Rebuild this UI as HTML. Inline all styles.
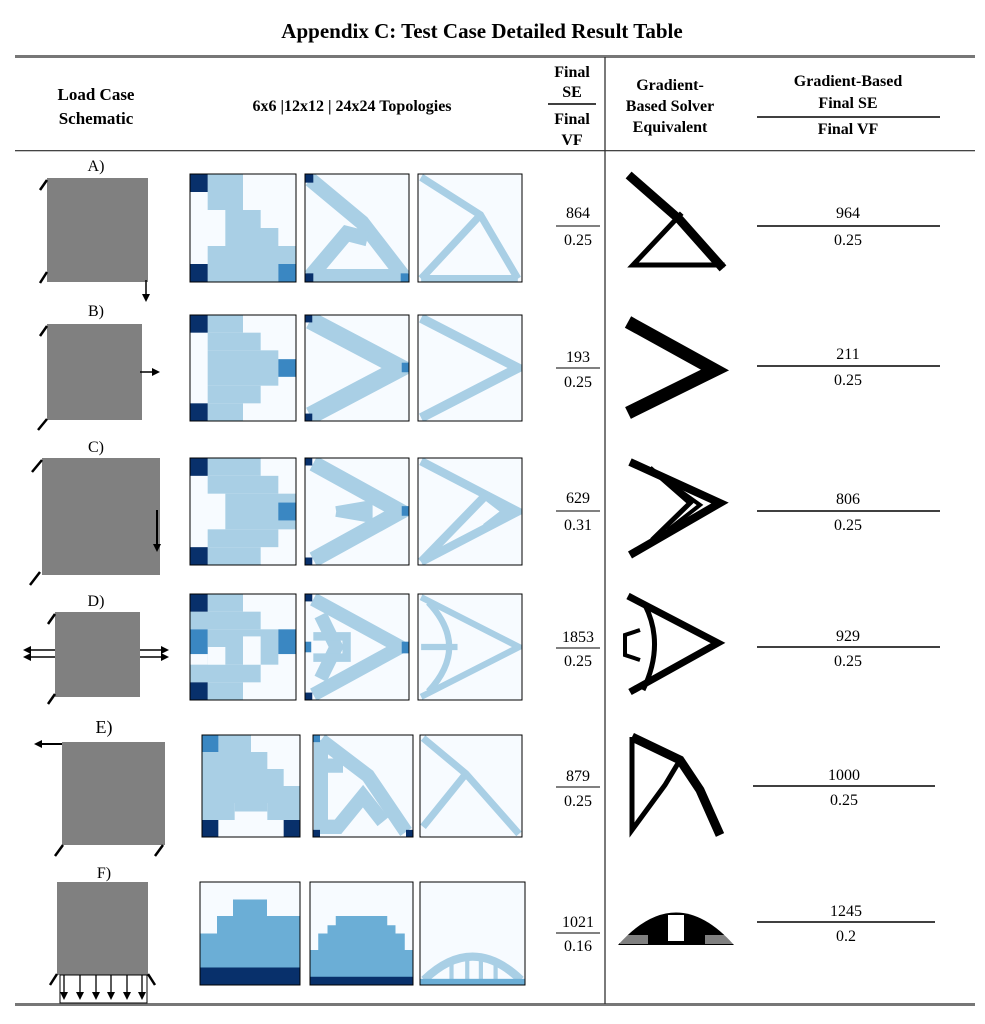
<!DOCTYPE html>
<html><head><meta charset="utf-8"><style>
html,body{margin:0;padding:0;background:#fff;width:985px;height:1024px;overflow:hidden}
text{font-family:"Liberation Serif",serif;fill:#000}
.h{font-weight:bold;font-size:17px}
.n{font-size:16px}
</style></head><body>
<svg width="985" height="1024" viewBox="0 0 985 1024" xmlns="http://www.w3.org/2000/svg">
<defs>
<marker id="ah" markerWidth="8" markerHeight="8" refX="4" refY="4" orient="auto" markerUnits="userSpaceOnUse"><path d="M0,0 L8,4 L0,8 z" fill="#000"/></marker>
</defs>
<text x="482" y="38" text-anchor="middle" style="font-weight:bold;font-size:21px">Appendix C: Test Case Detailed Result Table</text>
<rect x="15" y="55" width="960" height="3" fill="#777"/>
<rect x="15" y="150" width="960" height="1.3" fill="#444"/>
<rect x="15" y="1003" width="960" height="3" fill="#777"/>
<line x1="605" y1="57" x2="605" y2="1004" stroke="#333" stroke-width="1.3"/>
<!-- header -->
<text class="h" x="96" y="100" text-anchor="middle">Load Case</text>
<text class="h" x="96" y="124" text-anchor="middle">Schematic</text>
<text class="h" x="352" y="111" text-anchor="middle" style="font-size:16px">6x6 |12x12 | 24x24 Topologies</text>
<text class="h" x="572" y="77" text-anchor="middle" style="font-size:16px">Final</text>
<text class="h" x="572" y="97" text-anchor="middle" style="font-size:16px">SE</text>
<line x1="548" y1="104" x2="596" y2="104" stroke="#000" stroke-width="1.5"/>
<text class="h" x="572" y="124" text-anchor="middle" style="font-size:16px">Final</text>
<text class="h" x="572" y="145" text-anchor="middle" style="font-size:16px">VF</text>
<text class="h" x="670" y="90" text-anchor="middle" style="font-size:16px">Gradient-</text>
<text class="h" x="670" y="111" text-anchor="middle" style="font-size:16px">Based Solver</text>
<text class="h" x="670" y="132" text-anchor="middle" style="font-size:16px">Equivalent</text>
<text class="h" x="848" y="86" text-anchor="middle" style="font-size:16px">Gradient-Based</text>
<text class="h" x="848" y="108" text-anchor="middle" style="font-size:16px">Final SE</text>
<line x1="757" y1="117" x2="940" y2="117" stroke="#000" stroke-width="1.5"/>
<text class="h" x="848" y="134" text-anchor="middle" style="font-size:16px">Final VF</text>

<!-- ROW A -->
<text class="n" x="96" y="171" text-anchor="middle">A)</text>
<rect x="47" y="178" width="101" height="104" fill="#808080"/>
<line x1="40" y1="190" x2="47" y2="180" stroke="#000" stroke-width="2.5"/>
<line x1="40" y1="283" x2="47" y2="272" stroke="#000" stroke-width="2.5"/>
<line x1="146" y1="280" x2="146" y2="298" stroke="#000" stroke-width="1.5" marker-end="url(#ah)"/>
<svg x="190" y="174" width="106" height="108" viewBox="0 0 6 6" preserveAspectRatio="none"><rect width="6" height="6" fill="#f7fbff"/>
<g fill="#a9cfe5"><rect x="1" y="0" width="2" height="1"/><rect x="1" y="1" width="2" height="1"/><rect x="2" y="2" width="2" height="1"/><rect x="2" y="3" width="3" height="1"/><rect x="1" y="4" width="5" height="1"/><rect x="1" y="5" width="4" height="1"/></g>
<rect x="0" y="0" width="1" height="1" fill="#08306b"/><rect x="0" y="5" width="1" height="1" fill="#08306b"/><rect x="5" y="5" width="1" height="1" fill="#3a87c2"/></svg>
<svg x="305" y="174" width="104" height="108" viewBox="0 0 100 100" preserveAspectRatio="none"><rect width="100" height="100" fill="#f7fbff"/>
<g stroke="#a9cfe5" fill="none" stroke-width="14"><polyline points="5,5 55,45 95,95"/><polyline points="5,95 40,55 60,60"/><polyline points="5,95 95,95"/></g>
<rect x="0" y="0" width="8" height="8" fill="#08306b"/><rect x="0" y="92" width="8" height="8" fill="#08306b"/><rect x="92" y="92" width="8" height="8" fill="#3a87c2"/></svg>
<svg x="418" y="174" width="104" height="108" viewBox="0 0 100 100" preserveAspectRatio="none"><rect width="100" height="100" fill="#f7fbff"/>
<g stroke="#a9cfe5" fill="none" stroke-width="7"><polyline points="3,3 60,38 96,97"/><polyline points="60,38 3,97"/><polyline points="3,97 96,97"/></g></svg>
<g stroke="#000" fill="none" stroke-linecap="square"><polyline points="632,178 680,220 720,265" stroke-width="9"/><polyline points="680,215 633,265 722,265" stroke-width="5"/></g>
<text class="n" x="578" y="218" text-anchor="middle">864</text><line x1="556" y1="226" x2="600" y2="226" stroke="#000"/><text class="n" x="578" y="245" text-anchor="middle">0.25</text>
<text class="n" x="848" y="218" text-anchor="middle">964</text><line x1="757" y1="226" x2="940" y2="226" stroke="#000" stroke-width="1.5"/><text class="n" x="848" y="245" text-anchor="middle">0.25</text>

<!-- ROW B -->
<text class="n" x="96" y="316" text-anchor="middle">B)</text>
<rect x="47" y="324" width="95" height="96" fill="#808080"/>
<line x1="40" y1="336" x2="47" y2="326" stroke="#000" stroke-width="2.5"/>
<line x1="38" y1="430" x2="47" y2="419" stroke="#000" stroke-width="2.5"/>
<line x1="140" y1="372" x2="156" y2="372" stroke="#000" stroke-width="1.5" marker-end="url(#ah)"/>
<svg x="190" y="315" width="106" height="106" viewBox="0 0 6 6" preserveAspectRatio="none"><rect width="6" height="6" fill="#f7fbff"/>
<g fill="#a9cfe5"><rect x="1" y="0" width="2" height="1"/><rect x="1" y="1" width="3" height="1"/><rect x="1" y="2" width="4" height="2"/><rect x="1" y="4" width="3" height="1"/><rect x="1" y="5" width="2" height="1"/></g>
<rect x="0" y="0" width="1" height="1" fill="#08306b"/><rect x="0" y="5" width="1" height="1" fill="#08306b"/><rect x="5" y="2.5" width="1" height="1" fill="#3a87c2"/></svg>
<svg x="305" y="315" width="104" height="106" viewBox="0 0 100 100" preserveAspectRatio="none"><rect width="100" height="100" fill="#f7fbff"/>
<g stroke="#a9cfe5" fill="none" stroke-width="17"><polyline points="5,5 92,50 5,95"/></g>
<rect x="0" y="0" width="7" height="7" fill="#08306b"/><rect x="0" y="93" width="7" height="7" fill="#08306b"/><rect x="93" y="45" width="7" height="9" fill="#3a87c2"/></svg>
<svg x="418" y="315" width="104" height="106" viewBox="0 0 100 100" preserveAspectRatio="none"><rect width="100" height="100" fill="#f7fbff"/>
<g stroke="#a9cfe5" fill="none" stroke-width="9"><polyline points="3,3 96,50 3,97"/></g></svg>
<g stroke="#000" fill="none"><polyline points="628,322 715,370 628,413" stroke-width="13"/></g>
<text class="n" x="578" y="362" text-anchor="middle">193</text><line x1="556" y1="368" x2="600" y2="368" stroke="#000"/><text class="n" x="578" y="387" text-anchor="middle">0.25</text>
<text class="n" x="848" y="359" text-anchor="middle">211</text><line x1="757" y1="366" x2="940" y2="366" stroke="#000" stroke-width="1.5"/><text class="n" x="848" y="385" text-anchor="middle">0.25</text>

<!-- ROW C -->
<text class="n" x="96" y="452" text-anchor="middle">C)</text>
<rect x="42" y="458" width="118" height="117" fill="#808080"/>
<line x1="32" y1="472" x2="42" y2="460" stroke="#000" stroke-width="2.5"/>
<line x1="30" y1="585" x2="40" y2="572" stroke="#000" stroke-width="2.5"/>
<line x1="157" y1="510" x2="157" y2="548" stroke="#000" stroke-width="2" marker-end="url(#ah)"/>
<svg x="190" y="458" width="106" height="107" viewBox="0 0 6 6" preserveAspectRatio="none"><rect width="6" height="6" fill="#f7fbff"/>
<g fill="#a9cfe5"><rect x="1" y="0" width="3" height="1"/><rect x="1" y="1" width="4" height="1"/><rect x="2" y="2" width="4" height="1"/><rect x="2" y="3" width="4" height="1"/><rect x="1" y="4" width="4" height="1"/><rect x="1" y="5" width="3" height="1"/></g>
<rect x="0" y="0" width="1" height="1" fill="#08306b"/><rect x="0" y="5" width="1" height="1" fill="#08306b"/><rect x="5" y="2.5" width="1" height="1" fill="#3a87c2"/></svg>
<svg x="305" y="458" width="104" height="107" viewBox="0 0 100 100" preserveAspectRatio="none"><rect width="100" height="100" fill="#f7fbff"/>
<g stroke="#a9cfe5" fill="none" stroke-width="15"><polyline points="8,5 92,50 8,95"/><polyline points="30,50 60,45 60,55 30,50" stroke-width="10"/></g>
<rect x="0" y="0" width="7" height="7" fill="#08306b"/><rect x="0" y="93" width="7" height="7" fill="#08306b"/><rect x="93" y="45" width="7" height="9" fill="#3a87c2"/></svg>
<svg x="418" y="458" width="104" height="107" viewBox="0 0 100 100" preserveAspectRatio="none"><rect width="100" height="100" fill="#f7fbff"/>
<g stroke="#a9cfe5" fill="none" stroke-width="8"><polyline points="3,3 96,50 3,97"/><polyline points="65,35 85,50 65,65"/><polyline points="3,97 65,35"/></g></svg>
<g stroke="#000" fill="none"><polyline points="630,462 720,503 630,555" stroke-width="8"/><polyline points="650,468 690,503 652,540" stroke-width="5"/><polyline points="665,480 700,505 668,530" stroke-width="4"/></g>
<text class="n" x="578" y="503" text-anchor="middle">629</text><line x1="556" y1="511" x2="600" y2="511" stroke="#000"/><text class="n" x="578" y="530" text-anchor="middle">0.31</text>
<text class="n" x="848" y="504" text-anchor="middle">806</text><line x1="757" y1="511" x2="940" y2="511" stroke="#000" stroke-width="1.5"/><text class="n" x="848" y="530" text-anchor="middle">0.25</text>

<!-- ROW D -->
<text class="n" x="96" y="606" text-anchor="middle">D)</text>
<rect x="55" y="612" width="85" height="85" fill="#808080"/>
<line x1="48" y1="624" x2="55" y2="614" stroke="#000" stroke-width="2.5"/>
<line x1="48" y1="704" x2="55" y2="694" stroke="#000" stroke-width="2.5"/>
<g stroke="#000" stroke-width="1.5"><line x1="55" y1="650" x2="27" y2="650" marker-end="url(#ah)"/><line x1="55" y1="657" x2="27" y2="657" marker-end="url(#ah)"/><line x1="140" y1="650" x2="165" y2="650" marker-end="url(#ah)"/><line x1="140" y1="657" x2="165" y2="657" marker-end="url(#ah)"/></g>
<svg x="190" y="594" width="106" height="106" viewBox="0 0 6 6" preserveAspectRatio="none"><rect width="6" height="6" fill="#f7fbff"/>
<g fill="#a9cfe5"><rect x="1" y="0" width="2" height="1"/><rect x="0" y="1" width="4" height="1"/><rect x="1" y="2" width="4" height="2"/><rect x="0" y="4" width="4" height="1"/><rect x="1" y="5" width="2" height="1"/></g>
<g fill="#f7fbff"><rect x="1" y="3" width="1" height="1"/><rect x="3" y="2.4" width="1" height="1.6"/></g>
<rect x="0" y="0" width="1" height="1" fill="#08306b"/><rect x="0" y="5" width="1" height="1" fill="#08306b"/><rect x="0" y="2" width="1" height="1.4" fill="#3a87c2"/><rect x="5" y="2" width="1" height="1.4" fill="#3a87c2"/></svg>
<svg x="305" y="594" width="104" height="106" viewBox="0 0 100 100" preserveAspectRatio="none"><rect width="100" height="100" fill="#f7fbff"/>
<g stroke="#a9cfe5" fill="none" stroke-width="13"><polyline points="8,5 92,50 8,95"/><polyline points="15,20 30,50 15,80"/><polyline points="8,40 40,40 40,60 8,60" stroke-width="8"/></g>
<rect x="0" y="0" width="7" height="7" fill="#08306b"/><rect x="0" y="93" width="7" height="7" fill="#08306b"/><rect x="93" y="45" width="7" height="11" fill="#3a87c2"/><rect x="0" y="45" width="6" height="10" fill="#3a87c2"/></svg>
<svg x="418" y="594" width="104" height="106" viewBox="0 0 100 100" preserveAspectRatio="none"><rect width="100" height="100" fill="#f7fbff"/>
<g stroke="#a9cfe5" fill="none" stroke-width="6"><polyline points="3,3 97,50 3,97"/><path d="M10,8 Q50,50 10,92"/><line x1="3" y1="50" x2="38" y2="50"/></g></svg>
<g stroke="#000" fill="none"><polyline points="628,596 718,643 630,692" stroke-width="7"/><path d="M645,605 Q665,645 643,690" stroke-width="5"/><polyline points="640,630 625,635 625,655 640,660" stroke-width="4"/></g>
<text class="n" x="578" y="642" text-anchor="middle">1853</text><line x1="556" y1="648" x2="600" y2="648" stroke="#000"/><text class="n" x="578" y="666" text-anchor="middle">0.25</text>
<text class="n" x="848" y="641" text-anchor="middle">929</text><line x1="757" y1="647" x2="940" y2="647" stroke="#000" stroke-width="1.5"/><text class="n" x="848" y="666" text-anchor="middle">0.25</text>

<!-- ROW E -->
<text class="n" x="104" y="733" text-anchor="middle" style="font-size:18px">E)</text>
<rect x="62" y="742" width="103" height="103" fill="#808080"/>
<line x1="62" y1="744" x2="38" y2="744" stroke="#000" stroke-width="2" marker-end="url(#ah)"/>
<line x1="55" y1="856" x2="63" y2="845" stroke="#000" stroke-width="2.5"/>
<line x1="155" y1="856" x2="163" y2="845" stroke="#000" stroke-width="2.5"/>
<svg x="202" y="735" width="98" height="102" viewBox="0 0 6 6" preserveAspectRatio="none"><rect width="6" height="6" fill="#f7fbff"/>
<g fill="#a9cfe5"><rect x="0" y="0" width="3" height="1"/><rect x="0" y="1" width="4" height="1"/><rect x="0" y="2" width="5" height="1"/><rect x="0" y="3" width="6" height="1"/><rect x="0" y="4" width="2" height="1"/><rect x="4" y="4" width="2" height="1"/><rect x="2" y="4" width="2" height="0.5"/></g>
<rect x="0" y="0" width="1" height="1" fill="#3a87c2"/><rect x="0" y="5" width="1" height="1" fill="#08306b"/><rect x="5" y="5" width="1" height="1" fill="#08306b"/></svg>
<svg x="313" y="735" width="100" height="102" viewBox="0 0 100 100" preserveAspectRatio="none"><rect width="100" height="100" fill="#f7fbff"/>
<g stroke="#a9cfe5" fill="none" stroke-width="14"><polyline points="8,5 55,40 93,95"/><polyline points="8,5 8,90 25,90 50,60 70,85"/><line x1="8" y1="30" x2="30" y2="30"/></g>
<rect x="0" y="0" width="7" height="7" fill="#3a87c2"/><rect x="0" y="93" width="7" height="7" fill="#08306b"/><rect x="93" y="93" width="7" height="7" fill="#08306b"/></svg>
<svg x="420" y="735" width="102" height="102" viewBox="0 0 100 100" preserveAspectRatio="none"><rect width="100" height="100" fill="#f7fbff"/>
<g stroke="#a9cfe5" fill="none" stroke-width="7"><polyline points="3,3 45,38 97,97"/><polyline points="45,38 3,90"/></g></svg>
<g stroke="#000" fill="none"><polyline points="632,737 632,830 665,785 680,760" stroke-width="5"/><polyline points="632,737 680,760 700,790 720,835" stroke-width="9"/></g>
<text class="n" x="578" y="781" text-anchor="middle">879</text><line x1="556" y1="787" x2="600" y2="787" stroke="#000"/><text class="n" x="578" y="806" text-anchor="middle">0.25</text>
<text class="n" x="844" y="780" text-anchor="middle">1000</text><line x1="753" y1="786" x2="935" y2="786" stroke="#000" stroke-width="1.5"/><text class="n" x="844" y="805" text-anchor="middle">0.25</text>

<!-- ROW F -->
<text class="n" x="104" y="878" text-anchor="middle">F)</text>
<rect x="57" y="882" width="91" height="93" fill="#808080"/>
<line x1="50" y1="985" x2="57" y2="974" stroke="#000" stroke-width="2.5"/>
<line x1="155" y1="985" x2="148" y2="974" stroke="#000" stroke-width="2.5"/>
<rect x="60" y="975" width="87" height="28" fill="none" stroke="#000" stroke-width="1"/>
<g stroke="#000" stroke-width="1.3"><line x1="64" y1="975" x2="64" y2="996" marker-end="url(#ah)"/><line x1="80" y1="975" x2="80" y2="996" marker-end="url(#ah)"/><line x1="96" y1="975" x2="96" y2="996" marker-end="url(#ah)"/><line x1="111" y1="975" x2="111" y2="996" marker-end="url(#ah)"/><line x1="127" y1="975" x2="127" y2="996" marker-end="url(#ah)"/><line x1="142" y1="975" x2="142" y2="996" marker-end="url(#ah)"/></g>
<svg x="200" y="882" width="100" height="103" viewBox="0 0 100 100" preserveAspectRatio="none"><rect width="100" height="100" fill="#f7fbff"/>
<polygon points="0,50 17,50 17,33 33,33 33,17 67,17 67,33 100,33 100,100 0,100" fill="#6baed6"/><rect x="0" y="83" width="100" height="17" fill="#08306b"/></svg>
<svg x="310" y="882" width="103" height="103" viewBox="0 0 100 100" preserveAspectRatio="none"><rect width="100" height="100" fill="#f7fbff"/>
<polygon points="0,66 8,66 8,50 17,50 17,42 25,42 25,33 75,33 75,42 83,42 83,50 92,50 92,66 100,66 100,100 0,100" fill="#6baed6"/><rect x="0" y="92" width="100" height="8" fill="#08306b"/></svg>
<svg x="420" y="882" width="105" height="103" viewBox="0 0 100 100" preserveAspectRatio="none"><rect width="100" height="100" fill="#f7fbff"/>
<path d="M4,95 Q50,50 96,95" stroke="#a9cfe5" stroke-width="8" fill="none"/><g stroke="#a9cfe5" stroke-width="4"><line x1="30" y1="75" x2="30" y2="95"/><line x1="45" y1="70" x2="45" y2="95"/><line x1="58" y1="70" x2="58" y2="95"/><line x1="72" y1="75" x2="72" y2="95"/></g><rect x="0" y="94" width="100" height="6" fill="#6baed6"/></svg>
<g><path d="M618,945 Q676,880 734,945 Z" fill="#000"/><rect x="668" y="915" width="16" height="26" fill="#fff"/><rect x="620" y="935" width="28" height="9" fill="#fff" opacity="0.5"/><rect x="705" y="935" width="28" height="9" fill="#fff" opacity="0.5"/></g>
<text class="n" x="578" y="927" text-anchor="middle">1021</text><line x1="556" y1="933" x2="600" y2="933" stroke="#000"/><text class="n" x="578" y="951" text-anchor="middle">0.16</text>
<text class="n" x="846" y="916" text-anchor="middle">1245</text><line x1="757" y1="922" x2="935" y2="922" stroke="#000" stroke-width="1.5"/><text class="n" x="846" y="941" text-anchor="middle">0.2</text>

<!-- box borders -->
<g fill="none" stroke="#000" stroke-width="1">
<rect x="190" y="174" width="106" height="108"/><rect x="305" y="174" width="104" height="108"/><rect x="418" y="174" width="104" height="108"/>
<rect x="190" y="315" width="106" height="106"/><rect x="305" y="315" width="104" height="106"/><rect x="418" y="315" width="104" height="106"/>
<rect x="190" y="458" width="106" height="107"/><rect x="305" y="458" width="104" height="107"/><rect x="418" y="458" width="104" height="107"/>
<rect x="190" y="594" width="106" height="106"/><rect x="305" y="594" width="104" height="106"/><rect x="418" y="594" width="104" height="106"/>
<rect x="202" y="735" width="98" height="102"/><rect x="313" y="735" width="100" height="102"/><rect x="420" y="735" width="102" height="102"/>
<rect x="200" y="882" width="100" height="103"/><rect x="310" y="882" width="103" height="103"/><rect x="420" y="882" width="105" height="103"/>
</g>
</svg>
</body></html>
